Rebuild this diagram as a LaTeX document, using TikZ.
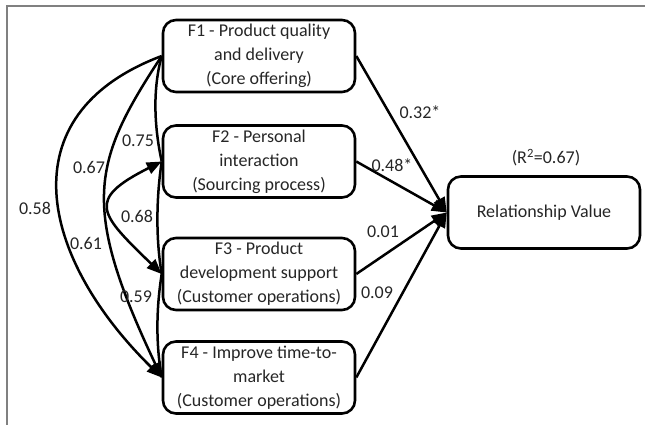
\documentclass[tikz,border=0pt]{standalone}
\usepackage{fontspec}
\setmainfont{Carlito}
\usetikzlibrary{arrows.meta}
\begin{document}
\begin{tikzpicture}[x=1pt,y=-1pt,
  box/.style={draw=black,line width=2.6pt,rounded corners=13pt,minimum width=192pt,minimum height=72pt,align=center,font=\fontsize{18}{24}\selectfont,text=black!85,inner sep=0pt},
  lbl/.style={font=\fontsize{18}{22}\selectfont,text=black!85,inner sep=0pt},
  conn/.style={line width=2.5pt},
  tip/.style={-{Triangle[length=15pt,width=12pt]}},
  tips/.style={{Triangle[length=15pt,width=12pt]}-{Triangle[length=15pt,width=12pt]}},
  frameline/.style={draw=gray,line width=2pt}]
\useasboundingbox (0,0) rectangle (645,425);
\draw[frameline] (645,6) -- (7,6) -- (7,425);

\node[box] (F1) at (259,56) {F1 - Product quality\\and delivery\\(Core offering)};
\node[box] (F2) at (259,161.5) {F2 - Personal\\interaction\\(Sourcing process)};
\node[box] (F3) at (259,274) {F3 - Product\\development support\\(Customer operations)};
\node[box] (F4) at (259,377.5) {F4 - Improve time-to-\\market\\(Customer operations)};
\node[box] (RV) at (544,212.5) {Relationship Value};
\node[lbl] (R2) at (546,158) {(R\textsuperscript{2}=0.67)};

% paths to relationship value
\draw[conn,tip] (F1.east) -- (RV.west);
\draw[conn,tip] (F2.east) -- (RV.west);
\draw[conn,tip] (F3.east) -- (RV.west);
\draw[conn,tip] (F4.east) -- (RV.west);

% correlations
\draw[conn,tip] (F1.west) .. controls (5,115) and (41,259) .. (F4.west);
\draw[conn,tip] (F1.west) .. controls (92,162) and (80,205) .. (F4.west);
\draw[conn,tips] (F2.west) .. controls (85,200) and (100,214) .. (F3.west);
\draw[conn] (F1.west) .. controls (151,95) and (156,135) .. (F2.west);
\draw[conn] (F2.west) .. controls (156,200) and (156,240) .. (F3.west);
\draw[conn] (F3.west) .. controls (156,310) and (156,345) .. (F4.west);

% labels
\node[lbl] (l1) at (420,112) {0.32*};
\node[lbl] (l2) at (392,165) {0.48*};
\node[lbl] (l3) at (383,232) {0.01};
\node[lbl] (l4) at (377,293) {0.09};
\node[lbl] (c12) at (138,141) {0.75};
\node[lbl] (c13) at (89,167) {0.67};
\node[lbl] (c14) at (35,208) {0.58};
\node[lbl] (c23) at (137,216) {0.68};
\node[lbl] (c24) at (86,243) {0.61};
\node[lbl] (c34) at (136,297) {0.59};
\end{tikzpicture}
\end{document}
